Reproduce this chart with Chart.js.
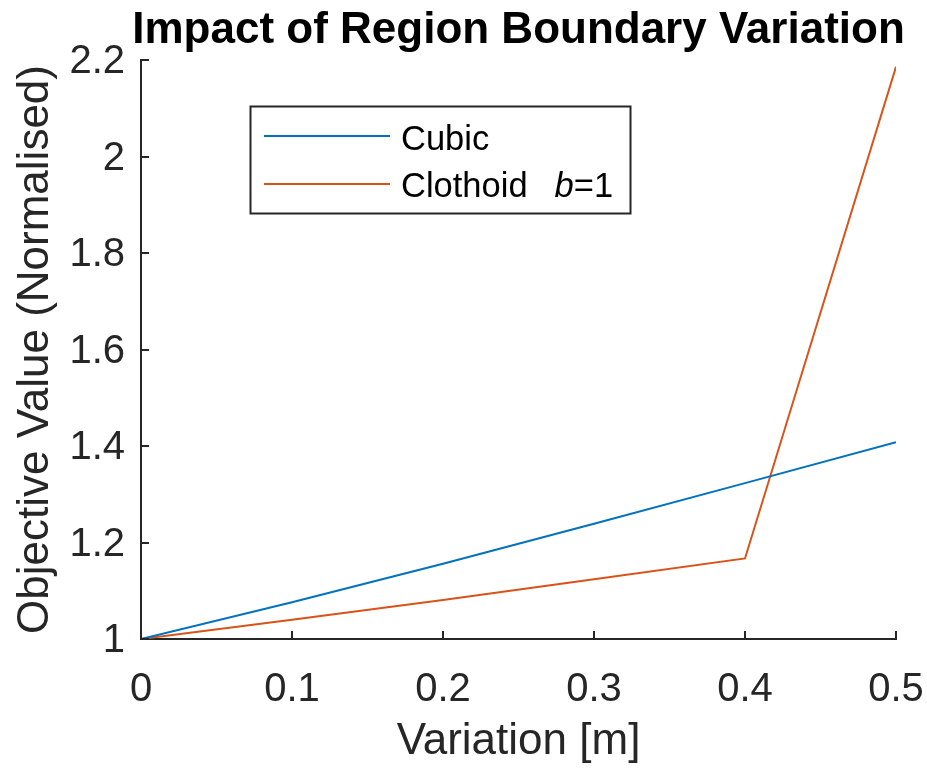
<!DOCTYPE html>
<html>
<head>
<meta charset="utf-8">
<script src="https://cdn.jsdelivr.net/npm/chart.js@4/dist/chart.umd.min.js"></script>
<style>
  html, body { margin: 0; padding: 0; background: #fff; overflow: hidden; }
  #wrap { position: relative; width: 927px; height: 769px; }
</style>
</head>
<body>
<div id="wrap"><canvas id="c"></canvas></div>
<script>
// ---- data ----
const variation = [0, 0.1, 0.2, 0.3, 0.4, 0.5];
const cubic     = [1.000, 1.076, 1.156, 1.239, 1.323, 1.408];
const clothoid  = [1.000, 1.040, 1.081, 1.124, 1.167, 2.186];
const xTicks = [0, 0.1, 0.2, 0.3, 0.4, 0.5];
const yTicks = [1, 1.2, 1.4, 1.6, 1.8, 2, 2.2];
const seriesNames = ['Cubic', 'Clothoid'];
const titleText = 'Impact of Region Boundary Variation';
const xLabel = 'Variation [m]';
const yLabel = 'Objective Value (Normalised)';

const AX = '#262626';
const FONT = "'Liberation Sans', Arial, Helvetica, sans-serif";
const fmt = v => String(Number(v.toFixed(1)));

const toPts = ys => variation.map((x, i) => ({ x, y: ys[i] }));

const inwardTicks = {
  id: 'inwardTicks',
  afterDatasetsDraw(chart) {
    const { ctx, chartArea: a, scales: { x, y } } = chart;
    ctx.save();
    ctx.strokeStyle = AX;
    ctx.lineWidth = 2;
    ctx.beginPath();
    xTicks.forEach(v => {
      const px = Math.round(x.getPixelForValue(v));
      ctx.moveTo(px, a.bottom);
      ctx.lineTo(px, a.bottom - 8);
    });
    yTicks.forEach(v => {
      const py = Math.round(y.getPixelForValue(v));
      ctx.moveTo(a.left, py);
      ctx.lineTo(a.left + 8, py);
    });
    ctx.stroke();
    ctx.restore();
  }
};

const titleAndLegend = {
  id: 'titleAndLegend',
  afterDraw(chart) {
    const { ctx, chartArea: a } = chart;
    ctx.save();
    // title
    ctx.fillStyle = '#000';
    ctx.font = 'bold 44px ' + FONT;
    ctx.textAlign = 'center';
    ctx.textBaseline = 'alphabetic';
    ctx.fillText(titleText, (a.left + a.right) / 2, 43);

    // legend box
    const bx = 250, by = 106, bw = 380, bh = 107;
    ctx.fillStyle = '#fff';
    ctx.fillRect(bx, by, bw, bh);
    ctx.strokeStyle = AX;
    ctx.lineWidth = 2;
    ctx.strokeRect(bx + 0.5, by + 0.5, bw, bh);

    const ds = chart.data.datasets;
    const rows = [136, 184];
    const base = [150, 197];
    ds.forEach((d, i) => {
      ctx.strokeStyle = d.borderColor;
      ctx.lineWidth = 2;
      ctx.beginPath();
      ctx.moveTo(264, rows[i]);
      ctx.lineTo(390, rows[i]);
      ctx.stroke();
    });
    ctx.fillStyle = '#000';
    ctx.textAlign = 'left';
    ctx.font = '34.5px ' + FONT;
    ctx.fillText(seriesNames[0], 401, base[0]);
    let tx = 401;
    ctx.fillText(seriesNames[1], tx, base[1]);
    tx += ctx.measureText(seriesNames[1]).width + 27;
    ctx.font = 'italic 34.5px ' + FONT;
    ctx.fillText('b', tx, base[1]);
    tx += ctx.measureText('b').width;
    ctx.font = '34.5px ' + FONT;
    ctx.fillText('=1', tx, base[1]);
    ctx.restore();
  }
};

new Chart(document.getElementById('c'), {
  type: 'line',
  data: {
    datasets: [
      { label: seriesNames[0], data: toPts(cubic), borderColor: '#0072BD', borderWidth: 2, pointRadius: 0, fill: false, tension: 0 },
      { label: seriesNames[1] + ' b=1', data: toPts(clothoid), borderColor: '#D95319', borderWidth: 2, pointRadius: 0, fill: false, tension: 0 }
    ]
  },
  options: {
    responsive: true,
    maintainAspectRatio: false,
    animation: false,
    layout: { padding: { top: 60, right: 31, bottom: 0, left: 0 } },
    plugins: {
      legend: { display: false },
      title: { display: false },
      tooltip: { enabled: false }
    },
    scales: {
      x: {
        type: 'linear',
        min: 0, max: 0.5,
        grid: { display: false },
        border: { display: true, color: AX, width: 2 },
        afterBuildTicks: s => { s.ticks = xTicks.map(v => ({ value: v })); },
        afterFit: s => { s.height = 130; s.paddingLeft = 0; s.paddingRight = 0; },
        ticks: {
          color: AX, padding: 19, maxRotation: 0, autoSkip: false,
          font: { family: FONT, size: 40 },
          callback: v => fmt(v)
        },
        title: {
          display: true, text: xLabel, color: AX,
          font: { family: FONT, size: 44 }, padding: { top: 0, bottom: 1 }
        }
      },
      y: {
        type: 'linear',
        min: 1, max: 2.2,
        grid: { display: false },
        border: { display: true, color: AX, width: 2 },
        afterBuildTicks: s => { s.ticks = yTicks.map(v => ({ value: v })); },
        afterFit: s => { s.width = 141; s.paddingTop = 0; s.paddingBottom = 0; },
        ticks: {
          color: AX, padding: 8, autoSkip: false, labelOffset: 2,
          font: { family: FONT, size: 40 },
          callback: v => fmt(v)
        },
        title: {
          display: true, text: yLabel, color: AX,
          font: { family: FONT, size: 44 }, padding: { top: 9, bottom: 0 }
        }
      }
    }
  },
  plugins: [inwardTicks, titleAndLegend]
});
</script>
</body>
</html>
